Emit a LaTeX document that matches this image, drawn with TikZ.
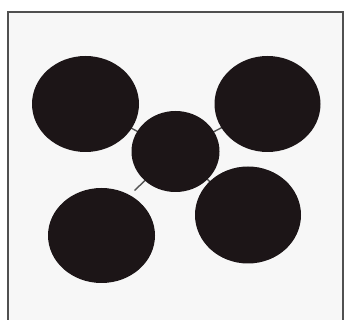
\documentclass[tikz,border=0pt]{standalone}
\usetikzlibrary{shapes.geometric,backgrounds}
\definecolor{blob}{HTML}{1C1517}
\definecolor{paper}{HTML}{F7F7F7}
\definecolor{framec}{HTML}{505050}
\definecolor{linkc}{HTML}{555555}
\begin{document}
\begin{tikzpicture}[x=1pt,y=-1pt,
  blobshape/.style={ellipse, fill=blob, draw=none, inner sep=0pt},
  linkline/.style={draw=linkc, line width=1.4pt}]
\useasboundingbox (0,0) rectangle (349,320);
\node[blobshape, minimum width=107pt, minimum height=96pt] (tl) at (85.5,104) {};
\node[blobshape, minimum width=106pt, minimum height=96pt] (tr) at (267.5,104) {};
\node[blobshape, minimum width=107pt, minimum height=95pt] (bl) at (101.5,235.5) {};
\node[blobshape, minimum width=106pt, minimum height=97pt] (br) at (248,215) {};
\node[blobshape, minimum width=88pt, minimum height=81pt] (c) at (175.5,151.5) {};
\coordinate (blend) at (134.5,190.5);
\begin{pgfonlayer}{background}
\fill[white] (0,0) rectangle (349,320);
\fill[paper] (8,12) rectangle (343,320);
\draw[framec, line width=1.6pt] (8,320) -- (8,12) -- (343,12) -- (343,320);
\draw[linkline] (c.center) -- (tl.center);
\draw[linkline] (c.center) -- (tr.center);
\draw[linkline] (c.center) -- (br.center);
\draw[linkline] (c.center) -- (blend);
\end{pgfonlayer}
\end{tikzpicture}
\end{document}
